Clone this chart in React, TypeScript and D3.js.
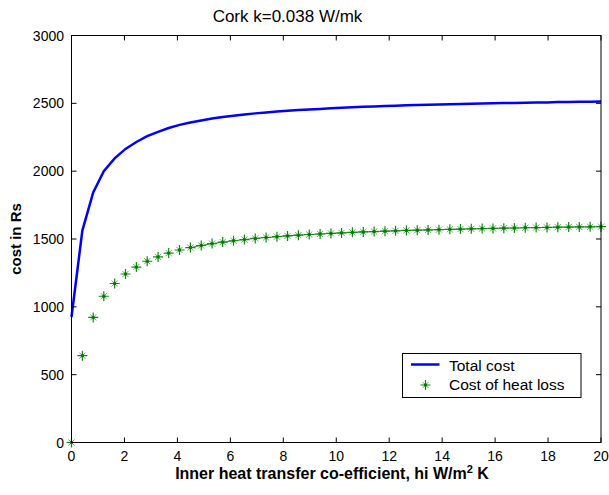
import React from 'react';
import * as d3 from 'd3';

// inner heat transfer coefficient (linspace 0..20, 50 points)
const hi = [
  0, 0.41, 0.82, 1.22, 1.63, 2.04, 2.45, 2.86, 3.27, 3.67,
  4.08, 4.49, 4.9, 5.31, 5.71, 6.12, 6.53, 6.94, 7.35, 7.76,
  8.16, 8.57, 8.98, 9.39, 9.8, 10.2, 10.61, 11.02, 11.43, 11.84,
  12.24, 12.65, 13.06, 13.47, 13.88, 14.29, 14.69, 15.1, 15.51, 15.92,
  16.33, 16.73, 17.14, 17.55, 17.96, 18.37, 18.78, 19.18, 19.59, 20,
];

const totalCost = [
  925, 1562, 1844, 2000, 2094, 2164, 2215, 2258, 2290, 2318,
  2341, 2359, 2374, 2388, 2399, 2409, 2418, 2426, 2433, 2439,
  2445, 2450, 2455, 2459, 2463, 2467, 2471, 2474, 2477, 2480,
  2482, 2485, 2487, 2489, 2491, 2493, 2495, 2497, 2499, 2500,
  2502, 2503, 2505, 2506, 2507, 2509, 2510, 2511, 2512, 2513,
];

const heatLossCost = [
  0, 640, 922, 1078, 1172, 1242, 1293, 1336, 1368, 1396,
  1419, 1437, 1452, 1466, 1477, 1487, 1496, 1504, 1511, 1517,
  1523, 1528, 1533, 1537, 1541, 1545, 1549, 1552, 1555, 1558,
  1560, 1563, 1565, 1567, 1569, 1571, 1573, 1575, 1577, 1578,
  1580, 1581, 1583, 1584, 1585, 1587, 1588, 1589, 1590, 1591,
];

const xTicks = [0, 2, 4, 6, 8, 10, 12, 14, 16, 18, 20];
const yTicks = [0, 500, 1000, 1500, 2000, 2500, 3000];
const legendLabels = ['Total cost', 'Cost of heat loss'];

const W = 609;
const H = 495;
const margin = { left: 71.5, right: 8, top: 35.5, bottom: 52.5 };
const font = '"Liberation Sans", Arial, sans-serif';

const Star: React.FC<{ cx: number; cy: number; s?: number }> = ({ cx, cy, s = 5 }) => {
  const d = s * 0.62;
  return (
    <g>
      <path
        d={`M${cx - d},${cy - d}L${cx + d},${cy + d}M${cx - d},${cy + d}L${cx + d},${cy - d}`}
        stroke="#5fb85f"
        strokeWidth={1}
      />
      <path
        d={`M${cx - s},${cy}L${cx + s},${cy}M${cx},${cy - s}L${cx},${cy + s}`}
        stroke="#138a13"
        strokeWidth={1.2}
      />
      <circle cx={cx} cy={cy} r={1.7} fill="#007a00" />
    </g>
  );
};

const App: React.FC = () => {
  const x0 = margin.left;
  const x1 = W - margin.right;
  const y0 = H - margin.bottom;
  const y1 = margin.top;

  const xScale = d3.scaleLinear().domain([0, 20]).range([x0, x1]);
  const yScale = d3.scaleLinear().domain([0, 3000]).range([y0, y1]);

  const line = d3
    .line<number>()
    .x((_, i) => xScale(hi[i]))
    .y(d => yScale(d));

  // markers blur into a thin line where the curve is flat
  const flatLine = d3
    .line<number>()
    .x((_, i) => xScale(hi[i + 11]))
    .y(d => yScale(d));

  const tk = 5;
  const lx = 402.5;
  const ly = 353.5;

  return (
    <svg
      width={W}
      height={H}
      style={{ position: 'absolute', left: 0, top: 0, background: '#fff' }}
      fontFamily={font}
    >
      <rect x={0} y={0} width={W} height={H} fill="#fff" />

      {/* title */}
      <text x={287.5} y={22} textAnchor="middle" fontSize={17} fill="#000">
        Cork k=0.038 W/mk
      </text>

      {/* data */}
      <path d={line(totalCost) || ''} fill="none" stroke="#0000ff" strokeWidth={2.5} />
      <path
        d={flatLine(heatLossCost.slice(11)) || ''}
        fill="none"
        stroke="#2e962e"
        strokeWidth={1}
      />
      {heatLossCost.map((d, i) => (
        <Star key={i} cx={xScale(hi[i])} cy={yScale(d)} />
      ))}

      {/* axes box */}
      <rect x={x0} y={y1} width={x1 - x0} height={y0 - y1} fill="none" stroke="#000" strokeWidth={1} />

      {xTicks.map(t => (
        <g key={'x' + t}>
          <line x1={xScale(t)} x2={xScale(t)} y1={y0} y2={y0 - tk} stroke="#000" />
          <line x1={xScale(t)} x2={xScale(t)} y1={y1} y2={y1 + tk} stroke="#000" />
          <text x={xScale(t)} y={461} textAnchor="middle" fontSize={14} fill="#000">
            {t}
          </text>
        </g>
      ))}
      {yTicks.map(t => (
        <g key={'y' + t}>
          <line x1={x0} x2={x0 + tk} y1={yScale(t)} y2={yScale(t)} stroke="#000" />
          <line x1={x1} x2={x1 - tk} y1={yScale(t)} y2={yScale(t)} stroke="#000" />
          <text x={64} y={yScale(t) + 5} textAnchor="end" fontSize={14} fill="#000">
            {t}
          </text>
        </g>
      ))}

      {/* axis labels */}
      <text x={332} y={479} textAnchor="middle" fontSize={16} fontWeight="bold" fill="#000">
        Inner heat transfer co-efficient, hi W/m
        <tspan dy={-6} fontSize={11}>2</tspan>
        <tspan dy={6}> K</tspan>
      </text>
      <text
        transform={`translate(21,${(y0 + y1) / 2}) rotate(-90)`}
        textAnchor="middle"
        fontSize={15}
        fontWeight="bold"
        fill="#000"
      >
        cost in Rs
      </text>

      {/* legend */}
      <rect x={lx} y={ly} width={178.5} height={44} fill="#fff" stroke="#000" strokeWidth={1} />
      <line x1={lx + 8.5} x2={lx + 37} y1={364.5} y2={364.5} stroke="#0000ff" strokeWidth={2.5} />
      <Star cx={425.5} cy={385} />
      <text x={449} y={370.5} fontSize={15.5} fill="#000">
        {legendLabels[0]}
      </text>
      <text x={449} y={390} fontSize={15.5} fill="#000">
        {legendLabels[1]}
      </text>
    </svg>
  );
};

export default App;
